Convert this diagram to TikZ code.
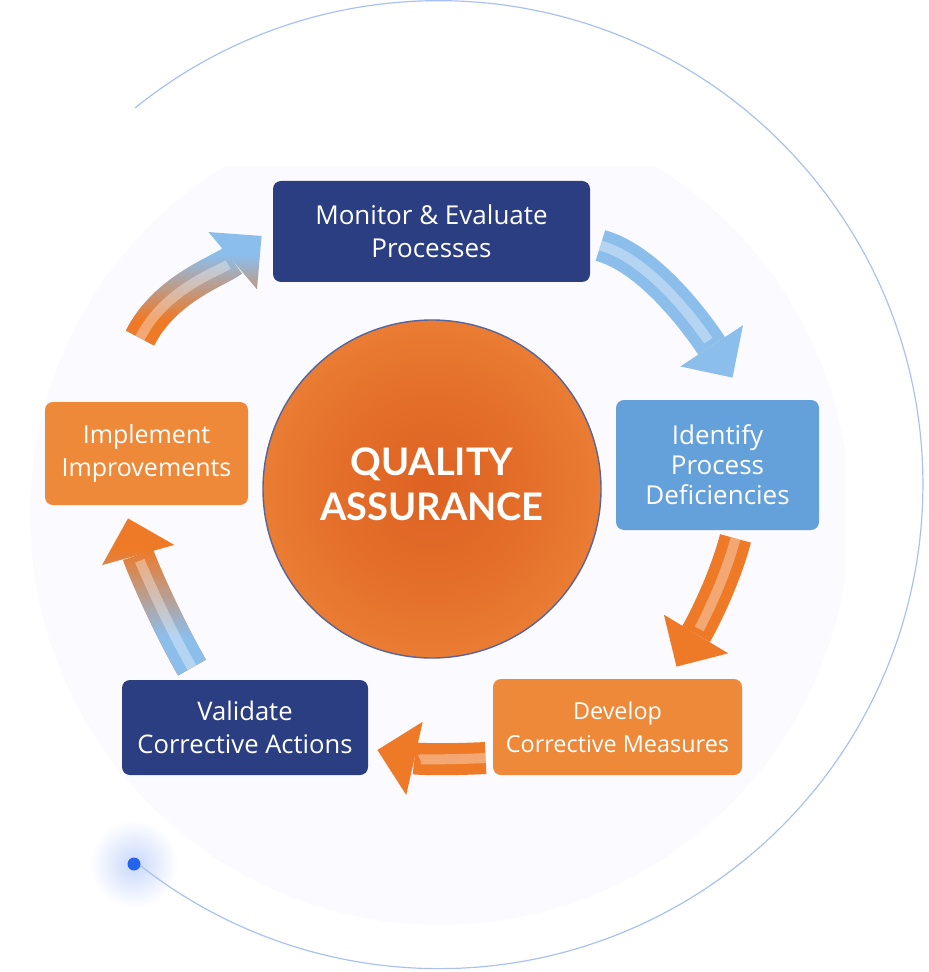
\documentclass[tikz,border=0pt]{standalone}
\usepackage{fontspec}
\setmainfont{Open Sans}
\newfontfamily\qafont{Lato}
\usetikzlibrary{arrows.meta,calc,fadings}
\definecolor{navybox}{RGB}{44,62,130}
\definecolor{skybox}{RGB}{100,161,218}
\definecolor{orangebox}{RGB}{238,137,58}
\definecolor{arrowblue}{RGB}{140,190,236}
\definecolor{arroworange}{RGB}{238,122,40}
\definecolor{qadeep}{RGB}{222,98,34}
\definecolor{qaorange}{RGB}{240,138,60}
\definecolor{ringline}{RGB}{170,192,245}
\definecolor{dotblue}{RGB}{37,99,235}
\definecolor{discbg}{RGB}{251,250,254}
\pgfdeclareradialshading{qaglow}{\pgfpoint{0bp}{0bp}}{color(0bp)=(qadeep); color(14bp)=(qadeep!70!qaorange); color(36bp)=(qaorange); color(50bp)=(qaorange)}
\pgfdeclareverticalshading{tailramp}{100bp}{color(0bp)=(white); color(38bp)=(white); color(62bp)=(black); color(100bp)=(black)}
\pgfdeclarefading{tailfade}{\pgfuseshading{tailramp}}
\newcommand\stepfont[1]{\fontsize{#1}{16.5}\selectfont}
\begin{document}
\begin{tikzpicture}[x=0.5pt,y=-0.5pt,
  box/.style={rounded corners=4pt,text=white,align=center,inner sep=0pt},
  flow/.style={line width=16pt,-{Triangle[width=37.5pt,length=19pt,line width=0pt]}},
  ridge/.style={line width=5pt,white,opacity=.35,shorten >=22pt}]
\useasboundingbox (0,0) rectangle (928,972);
% backdrop
\begin{scope}
\clip (30,167) rectangle (845,935);
\fill[discbg] (440,515) circle (410);
\end{scope}
\coordinate (dot) at (134,864);
\shade[inner color=dotblue!25,outer color=white] (dot) circle (44);
\draw[ringline,line width=0.6pt] (135,108) arc[start angle=-128.9,end angle=129,radius=484];
\fill[dotblue] (dot) circle (6.5);
% centre
\node[circle,minimum size=169pt,draw=navybox!80,line width=0.7pt,shade,shading=qaglow] (qa) at (432,489) {};
\node[text=white,align=center,font=\qafont\bfseries\fontsize{19}{22.5}\selectfont,yshift=2.5pt] (qatext) at (qa.center) {QUALITY\\ASSURANCE};
% steps
\node[box,fill=navybox,minimum width=158.5pt,minimum height=50.5pt,font=\stepfont{13}] (mon) at (431.5,231.5) {Monitor \& Evaluate\\Processes};
\node[box,fill=skybox,minimum width=101.5pt,minimum height=65pt,font=\fontsize{13}{15}\selectfont] (idf) at (717.5,465) {Identify\\Process\\Deficiencies};
\node[box,fill=orangebox,minimum width=124.5pt,minimum height=48pt,font=\stepfont{11.7}] (dev) at (617.5,727) {Develop\\Corrective Measures};
\node[box,fill=navybox,minimum width=123pt,minimum height=47.5pt,font=\stepfont{12.8}] (val) at (245,727.5) {Validate\\Corrective Actions};
\node[box,fill=orangebox,minimum width=101.5pt,minimum height=51.5pt,font=\stepfont{12.5}] (imp) at (146.5,453.5) {Implement\\Improvements};
% arrows
\draw[flow,arrowblue] ($(mon.east)+(10,14)$) .. controls +(55,15) and +(-25,-38) .. ($(idf.north)+(15,-22)$);
\draw[ridge] ($(mon.east)+(10,14)$) .. controls +(55,15) and +(-25,-38) .. ($(idf.north)+(15,-22)$);
\draw[flow,arroworange] ($(idf.south)+(18,8)$) .. controls +(-12,45) and +(24,-40) .. ($(dev.north)+(59,-12)$);
\draw[ridge] ($(idf.south)+(18,8)$) .. controls +(-12,45) and +(24,-40) .. ($(dev.north)+(59,-12)$);
\draw[flow,arroworange] ($(dev.west)+(-7,31)$) .. controls +(-40,2) and +(40,9) .. ($(val.east)+(9,22.5)$);
\draw[ridge] ($(dev.west)+(-7,31)$) .. controls +(-40,2) and +(40,9) .. ($(val.east)+(9,22.5)$);
\draw[flow,arroworange] ($(val.north)+(-53,-12)$) .. controls +(-27,-47) and +(12,43) .. ($(imp.south)+(-18.5,13)$);
\draw[flow,arrowblue,path fading=tailfade] ($(val.north)+(-53,-12)$) .. controls +(-27,-47) and +(12,43) .. ($(imp.south)+(-18.5,13)$);
\draw[ridge] ($(val.north)+(-53,-12)$) .. controls +(-27,-47) and +(12,43) .. ($(imp.south)+(-18.5,13)$);
\draw[flow,arrowblue] ($(imp.north)+(-6.5,-63.5)$) .. controls +(25,-50) and +(-40,34) .. ($(mon.west)+(-11,4.5)$);
\draw[flow,arroworange,path fading=tailfade] ($(imp.north)+(-6.5,-63.5)$) .. controls +(25,-50) and +(-40,34) .. ($(mon.west)+(-11,4.5)$);
\draw[ridge] ($(imp.north)+(-6.5,-63.5)$) .. controls +(25,-50) and +(-40,34) .. ($(mon.west)+(-11,4.5)$);
\end{tikzpicture}
\end{document}
